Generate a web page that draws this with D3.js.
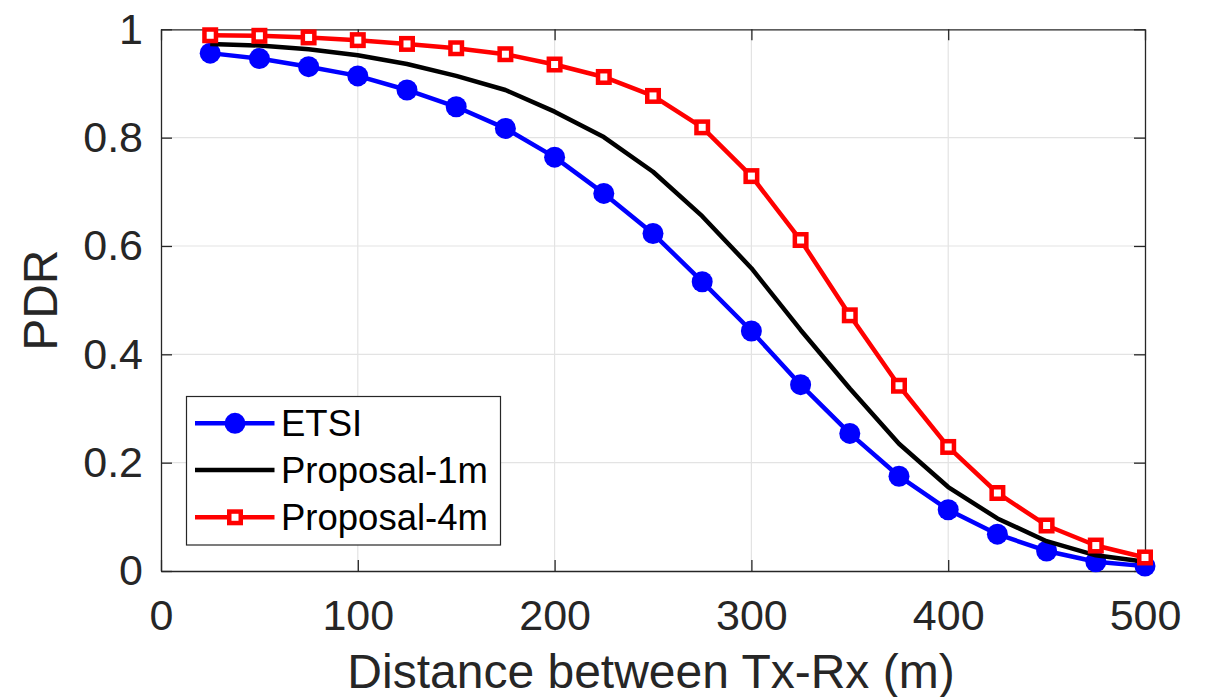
<!DOCTYPE html>
<html>
<head>
<meta charset="utf-8">
<script src="https://cdn.jsdelivr.net/npm/d3@7"></script>
<style>
  html, body { margin: 0; padding: 0; background: #fff; }
  svg { display: block; font-family: "Liberation Sans", Arial, sans-serif; }
</style>
</head>
<body>
<svg id="chart" width="1207" height="697"></svg>
<script>
// ---- data ----
const distances = [25, 50, 75, 100, 125, 150, 175, 200, 225, 250, 275, 300, 325, 350, 375, 400, 425, 450, 475, 500];
const etsi = [0.956, 0.946, 0.931, 0.914, 0.888, 0.857, 0.817, 0.764, 0.697, 0.623, 0.534, 0.443, 0.344, 0.254, 0.175, 0.113, 0.068, 0.037, 0.017, 0.009];
const proposal1m = [0.973, 0.970, 0.963, 0.952, 0.936, 0.914, 0.888, 0.848, 0.801, 0.737, 0.655, 0.559, 0.445, 0.337, 0.235, 0.155, 0.097, 0.055, 0.029, 0.017];
const proposal4m = [0.989, 0.988, 0.985, 0.980, 0.973, 0.965, 0.954, 0.935, 0.912, 0.877, 0.819, 0.729, 0.611, 0.472, 0.342, 0.229, 0.144, 0.084, 0.047, 0.025];
const xTicks = [0, 100, 200, 300, 400, 500];
const yTicks = [0, 0.2, 0.4, 0.6, 0.8, 1];
const seriesNames = ["ETSI", "Proposal-1m", "Proposal-4m"];
const xLabel = "Distance between Tx-Rx (m)";
const yLabel = "PDR";

// ---- layout ----
const L = 161, R = 1145, T = 29.3, B = 571;
const axisColor = "#262626";
const gridColor = "#e3e3e3";

const svg = d3.select("#chart");
const x = d3.scaleLinear().domain([0, 500]).range([L, R]);
const y = d3.scaleLinear().domain([0, 1]).range([B, T]);

// grid
const grid = svg.append("g");
grid.selectAll(".gx").data(xTicks.slice(1, -1)).join("line")
  .attr("x1", d => x(d)).attr("x2", d => x(d)).attr("y1", T).attr("y2", B)
  .attr("stroke", gridColor).attr("stroke-width", 1.2);
grid.selectAll(".gy").data(yTicks.slice(1, -1)).join("line")
  .attr("x1", L).attr("x2", R).attr("y1", d => y(d)).attr("y2", d => y(d))
  .attr("stroke", gridColor).attr("stroke-width", 1.2);

// axes
function styleAxis(g) {
  g.select(".domain").attr("stroke", axisColor).attr("stroke-width", 1.3);
  g.selectAll(".tick line").attr("stroke", axisColor).attr("stroke-width", 1.3);
  g.selectAll(".tick text").attr("fill", axisColor).attr("font-size", 43)
    .attr("font-family", "'Liberation Sans', Arial, sans-serif");
}
const gx = svg.append("g").attr("transform", `translate(0,${B})`)
  .call(d3.axisBottom(x).tickValues(xTicks).tickFormat(d3.format("d")).tickSizeInner(-11).tickSizeOuter(0));
styleAxis(gx);
gx.selectAll(".tick text").attr("dy", null).attr("y", 59);

const gy = svg.append("g").attr("transform", `translate(${L},0)`)
  .call(d3.axisLeft(y).tickValues(yTicks).tickFormat(d => d === 0 || d === 1 ? d3.format("d")(d) : d3.format(".1f")(d)).tickSizeInner(-11).tickSizeOuter(0).tickPadding(18));
styleAxis(gy);

const gt = svg.append("g").attr("transform", `translate(0,${T})`)
  .call(d3.axisTop(x).tickValues(xTicks).tickFormat("").tickSizeInner(-11).tickSizeOuter(0));
styleAxis(gt);
const gr = svg.append("g").attr("transform", `translate(${R},0)`)
  .call(d3.axisRight(y).tickValues(yTicks).tickFormat("").tickSizeInner(-11).tickSizeOuter(0));
styleAxis(gr);

// axis labels
svg.append("text").attr("x", (L + R) / 2 - 2).attr("y", 688)
  .attr("text-anchor", "middle").attr("font-size", 48).attr("fill", axisColor).text(xLabel);
svg.append("text").attr("transform", `translate(57,${(T + B) / 2}) rotate(-90)`)
  .attr("text-anchor", "middle").attr("font-size", 48).attr("fill", axisColor).text(yLabel);

// series
const line = d3.line().x(d => x(d[0])).y(d => y(d[1]));
const zip = vals => distances.map((d, i) => [d, vals[i]]);
const lw = 4.5;

const gBlue = svg.append("g");
gBlue.append("path").datum(zip(etsi)).attr("d", line)
  .attr("fill", "none").attr("stroke", "#0000ff").attr("stroke-width", lw).attr("stroke-linejoin", "round");
gBlue.selectAll("circle").data(zip(etsi)).join("circle")
  .attr("cx", d => x(d[0])).attr("cy", d => y(d[1])).attr("r", 10.5).attr("fill", "#0000ff");

svg.append("path").datum(zip(proposal1m)).attr("d", line)
  .attr("fill", "none").attr("stroke", "#000").attr("stroke-width", lw).attr("stroke-linejoin", "round");

const gRed = svg.append("g");
gRed.append("path").datum(zip(proposal4m)).attr("d", line)
  .attr("fill", "none").attr("stroke", "#ff0000").attr("stroke-width", lw).attr("stroke-linejoin", "round");
const sq = 11.5;
gRed.selectAll("rect").data(zip(proposal4m)).join("rect")
  .attr("x", d => x(d[0]) - sq / 2).attr("y", d => y(d[1]) - sq / 2)
  .attr("width", sq).attr("height", sq)
  .attr("fill", "#fff").attr("stroke", "#ff0000").attr("stroke-width", 4.5);

// legend
const lg = svg.append("g");
lg.append("rect").attr("x", 186.5).attr("y", 396.5).attr("width", 314).attr("height", 148.5)
  .attr("fill", "#fff").attr("stroke", axisColor).attr("stroke-width", 1.2);
const rows = [423.3, 470, 517.3];
const colors = ["#0000ff", "#000000", "#ff0000"];
seriesNames.forEach((name, i) => {
  const ry = rows[i];
  lg.append("line").attr("x1", 195).attr("x2", 274.5).attr("y1", ry).attr("y2", ry)
    .attr("stroke", colors[i]).attr("stroke-width", lw);
  if (i === 0) {
    lg.append("circle").attr("cx", 235).attr("cy", ry).attr("r", 10.5).attr("fill", colors[i]);
  } else if (i === 2) {
    lg.append("rect").attr("x", 235 - sq / 2).attr("y", ry - sq / 2).attr("width", sq).attr("height", sq)
      .attr("fill", "#fff").attr("stroke", colors[i]).attr("stroke-width", 4.5);
  }
  lg.append("text").attr("x", 281).attr("y", ry + 12.5).attr("font-size", 36.5)
    .attr("fill", "#000").text(name);
});
</script>
</body>
</html>
